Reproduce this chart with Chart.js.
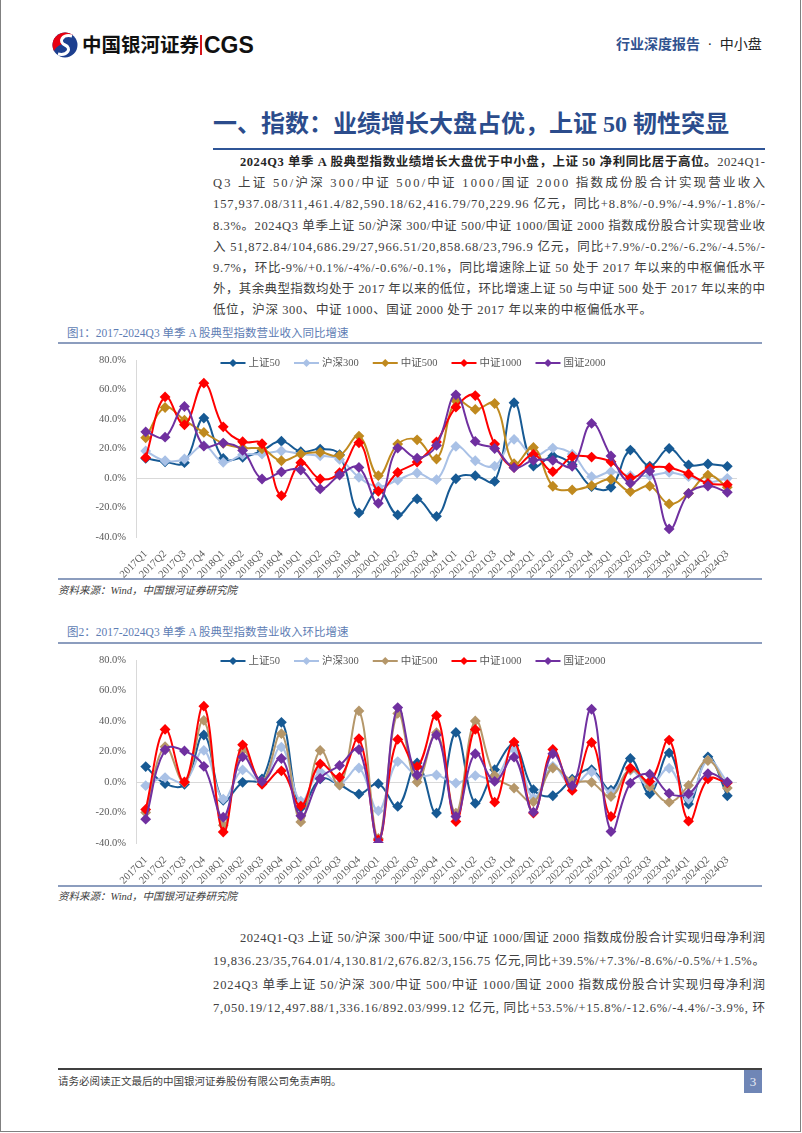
<!DOCTYPE html>
<html>
<head>
<meta charset="utf-8">
<script src="https://cdn.jsdelivr.net/npm/chart.js@4.4.1/dist/chart.umd.min.js"></script>
<style>
  body { margin: 0; background: #fff; }
  #page { position: relative; width: 802px; height: 1133px; overflow: hidden; background: #fff;
          font-family: "Liberation Serif", "Noto Sans CJK SC", serif; color: #404040; }
  .abs { position: absolute; white-space: nowrap; }
  .frame { position: absolute; left: 0; top: -2px; width: 799px; height: 1132px; border: 1px solid #808080; }
  .txt { position: absolute; left: 213px; width: 552px; height: 22px; line-height: 22px; font-size: 12.5px;
         white-space: nowrap; color: #404040; }
  .rule { position: absolute; left: 58px; width: 704px; height: 2px; background: #8C9DBE; }
  .cap { position: absolute; left: 67px; font-size: 11.5px; color: #5E7DB4; line-height: 16px; white-space: nowrap; }
  .src { position: absolute; left: 58px; font-size: 10.5px; font-style: italic; color: #404040; line-height: 14px; white-space: nowrap; }
  canvas { position: absolute; }
</style>
</head>
<body>
<div id="page">
  <div class="frame"></div>

  <!-- header -->
  <svg class="abs" style="left:51px;top:31px" width="28" height="28" viewBox="0 0 28 28">
    <circle cx="14" cy="14" r="12.5" fill="#1D3F8F"/>
    <path d="M14 1.5 A12.5 12.5 0 0 0 3 20 C 6 14, 12 12, 14 14 C 8 10, 12 3, 22 4 A12.5 12.5 0 0 0 14 1.5 Z" fill="#E60012"/>
    <path d="M21 5 C 11 3, 7 11, 14 14 C 21 17, 17 25, 7 23" stroke="#fff" stroke-width="3" fill="none"/>
  </svg>
  <div class="abs" style="left:82px;top:31px;font:bold 19.5px 'Noto Sans CJK SC',sans-serif;color:#111;line-height:26px">中国银河证券</div>
  <div class="abs" style="left:200px;top:35px;width:2px;height:20px;background:#D7141A"></div>
  <div class="abs" style="left:204px;top:31px;font:bold 23px 'Liberation Sans',Arial,sans-serif;color:#111;line-height:28px">CGS</div>
  <div class="abs" style="left:616px;top:36px;font-size:14px;line-height:18px;color:#222">
    <span style="color:#31528F;font-weight:bold">行业深度报告</span> <span style="margin:0 4px">·</span> 中小盘</div>

  <!-- title -->
  <div class="abs" style="left:213px;top:109px;font-size:24px;font-weight:bold;color:#2B4C8C;line-height:30px">一、指数：业绩增长大盘占优，上证 50 韧性突显</div>
  <div class="abs" style="left:213px;top:148px;width:552px;height:2px;background:#2F5597"></div>

  <!-- paragraph 1 -->
  <div class="txt just" data-indent="27" style="top:151px"><b style="color:#262626">2024Q3 单季 A 股典型指数业绩增长大盘优于中小盘，上证 50 净利同比居于高位。</b>2024Q1-</div>
  <div class="txt just" style="top:172px">Q3 上证 50/沪深 300/中证 500/中证 1000/国证 2000 指数成份股合计实现营业收入</div>
  <div class="txt just" style="top:193px">157,937.08/311,461.4/82,590.18/62,416.79/70,229.96 亿元，同比+8.8%/-0.9%/-4.9%/-1.8%/-</div>
  <div class="txt just" style="top:215px">8.3%。2024Q3 单季上证 50/沪深 300/中证 500/中证 1000/国证 2000 指数成份股合计实现营业收</div>
  <div class="txt just" style="top:236px">入 51,872.84/104,686.29/27,966.51/20,858.68/23,796.9 亿元，同比+7.9%/-0.2%/-6.2%/-4.5%/-</div>
  <div class="txt just" style="top:257px">9.7%，环比-9%/+0.1%/-4%/-0.6%/-0.1%，同比增速除上证 50 处于 2017 年以来的中枢偏低水平</div>
  <div class="txt just" style="top:278px">外，其余典型指数均处于 2017 年以来的低位，环比增速上证 50 与中证 500 处于 2017 年以来的中</div>
  <div class="txt" style="top:299px;letter-spacing:0.6px">低位，沪深 300、中证 1000、国证 2000 处于 2017 年以来的中枢偏低水平。</div>

  <!-- figure 1 -->
  <div class="cap" style="top:325px">图1：2017-2024Q3 单季 A 股典型指数营业收入同比增速</div>
  <div class="rule" style="top:342px"></div>
  <canvas id="chart1" width="704" height="228" style="left:58px;top:352px"></canvas>
  <div class="rule" style="top:578px"></div>
  <div class="src" style="top:584px">资料来源：Wind，中国银河证券研究院</div>

  <!-- figure 2 -->
  <div class="cap" style="top:624px">图2：2017-2024Q3 单季 A 股典型指数营业收入环比增速</div>
  <div class="rule" style="top:642px"></div>
  <canvas id="chart2" width="704" height="233" style="left:58px;top:652px"></canvas>
  <div class="rule" style="top:885px"></div>
  <div class="src" style="top:890px">资料来源：Wind，中国银河证券研究院</div>

  <!-- paragraph 2 -->
  <div class="txt just" data-indent="27" style="top:927px">2024Q1-Q3 上证 50/沪深 300/中证 500/中证 1000/国证 2000 指数成份股合计实现归母净利润</div>
  <div class="txt just" style="top:950px">19,836.23/35,764.01/4,130.81/2,676.82/3,156.75 亿元,同比+39.5%/+7.3%/-8.6%/-0.5%/+1.5%。</div>
  <div class="txt just" style="top:974px">2024Q3 单季上证 50/沪深 300/中证 500/中证 1000/国证 2000 指数成份股合计实现归母净利润</div>
  <div class="txt just" style="top:997px">7,050.19/12,497.88/1,336.16/892.03/999.12 亿元, 同比+53.5%/+15.8%/-12.6%/-4.4%/-3.9%, 环</div>

  <!-- footer -->
  <div class="abs" style="left:58px;top:1068px;width:704px;height:2px;background:#404040"></div>
  <div class="abs" style="left:58px;top:1075px;font-size:10.5px;line-height:14px;color:#404040">请务必阅读正文最后的中国银河证券股份有限公司免责声明。</div>
  <div class="abs" style="left:744px;top:1070px;width:18px;height:23px;background:#6F86B6;color:#E8ECF4;font-size:13px;line-height:23px;text-align:center">3</div>
</div>

<script>
// categories
const quarters = ['2017Q1','2017Q2','2017Q3','2017Q4','2018Q1','2018Q2','2018Q3','2018Q4',
  '2019Q1','2019Q2','2019Q3','2019Q4','2020Q1','2020Q2','2020Q3','2020Q4',
  '2021Q1','2021Q2','2021Q3','2021Q4','2022Q1','2022Q2','2022Q3','2022Q4',
  '2023Q1','2023Q2','2023Q3','2023Q4','2024Q1','2024Q2','2024Q3'];
const seriesNames = ['上证50', '沪深300', '中证500', '中证1000', '国证2000'];

// fig 1: yoy growth (%)
const yoySZ50   = [13.3, 11.0, 10.4, 40.6, 13.3, 14.0, 18.5, 25.0, 17.8, 19.6, 15.8, -23.7, -8.0, -25.0, -14.2, -26.0, -0.5, 1.6, -2.3, 51.0, 8.1, 14.9, 9.0, -5.9, -6.3, 18.9, 8.1, 20.0, 8.8, 9.5, 7.9];
const yoyHS300  = [18.3, 11.7, 12.9, 22.0, 10.6, 15.8, 16.2, 18.3, 16.2, 15.1, 12.6, 0.5, -5.9, -1.4, 3.4, -1.1, 21.4, 11.7, 8.1, 26.2, 15.0, 20.3, 16.2, 0.9, 4.3, 1.6, 1.6, 3.8, 0.9, -2.9, -0.2];
const yoyZZ500  = [27.3, 47.8, 39.2, 30.9, 23.5, 20.3, 19.8, 11.7, 16.2, 17.4, 15.3, 28.4, 1.6, 23.0, 25.9, 12.9, 52.3, 46.5, 50.5, 9.7, 20.7, -5.6, -8.1, -5.2, -0.9, -9.2, -5.4, -17.6, -10.4, 2.0, -6.2];
const yoyZZ1000 = [13.8, 55.0, 36.1, 64.3, 34.7, 24.6, 23.2, -12.0, 10.4, -0.7, 3.6, 23.9, -9.0, 3.8, 10.8, 24.4, 48.0, 55.9, 23.0, 7.2, 16.0, 4.3, 14.4, 14.2, 11.0, 0.0, 6.8, 7.0, 2.7, -3.6, -4.5];
const yoyGZ2000 = [31.3, 27.7, 48.5, 21.6, 23.7, 18.7, -0.7, 4.1, 5.4, -7.4, 2.0, 7.2, -17.1, 20.3, 13.5, 22.1, 56.4, 24.8, 20.0, 7.0, 12.0, 12.0, 7.9, 37.0, 14.9, -3.6, 4.7, -34.5, -10.4, -5.4, -9.7];

// fig 2: qoq growth (%)
const qoqSZ50   = [10.1, -1.1, -1.5, 30.8, -12.0, -0.2, 2.0, 39.1, -17.0, 2.0, -1.8, -7.9, -1.1, -16.0, 12.5, -20.4, 32.5, -14.0, 8.1, 24.0, -5.0, -9.0, 1.8, 8.1, -5.3, 15.4, -7.7, 19.1, -14.5, 16.5, -9.0];
const qoqHS300  = [-2.4, 2.9, -0.2, 20.7, -11.2, 7.9, 0.2, 22.9, -12.5, 6.8, -1.1, 9.2, -18.9, 13.4, 4.0, 4.6, -0.7, 4.2, 2.0, 21.3, -10.5, 10.3, -2.9, 6.6, -6.8, 7.7, -2.9, 9.0, -11.2, 14.3, 0.1];
const qoqZZ500  = [-20.0, 23.1, -0.2, 40.4, -28.4, 20.7, -0.2, 31.7, -26.2, 20.7, -2.0, 46.6, -37.0, 45.0, 0.0, 32.3, -20.4, 40.0, 4.2, -4.0, -13.0, 9.2, 0.7, -0.2, -9.5, 8.1, -3.0, -13.2, -2.2, 14.1, -4.0];
const qoqZZ1000 = [-18.0, 34.5, 0.0, 49.7, -32.8, 24.4, -1.5, 7.3, -15.8, 11.9, 3.1, 28.4, -38.0, 27.9, 10.1, 43.5, -25.9, 34.5, -13.2, 26.2, -20.4, 21.3, -5.5, 25.9, -22.6, 9.2, 0.4, 27.5, -25.7, 2.0, -0.6];
const qoqGZ2000 = [-24.4, 21.1, 20.4, 10.3, -23.1, 16.5, 0.4, 15.4, -22.2, 2.4, 10.8, 21.3, -39.8, 48.8, 4.6, 30.8, -22.6, 18.5, 0.4, 16.3, -19.8, 18.5, -2.4, 47.7, -32.5, -0.7, 5.1, -7.5, -7.7, 5.5, -0.1];

// y axis ticks
const yMin = -40, yMax = 80, yStep = 20;

// spread each full text line to the column width, word-processor style
document.querySelectorAll('.txt.just').forEach(el => {
  const indent = +(el.dataset.indent || 0);
  const span = document.createElement('span');
  while (el.firstChild) span.appendChild(el.firstChild);
  el.appendChild(span);
  span.style.marginLeft = indent + 'px';
  const natural = span.getBoundingClientRect().width;
  const n = span.textContent.length;
  const ls = (552 - indent - natural) / (n - 1);
  span.style.letterSpacing = ls.toFixed(3) + 'px';
});

const axisFont = { family: '"Liberation Serif", "Noto Sans CJK SC", serif', size: 10.5 };

// legend drawn as line + diamond, like the excel one
const lineLegend = {
  id: 'lineLegend',
  afterDraw(chart, args, opts) {
    const ctx = chart.ctx;
    ctx.save();
    ctx.font = '10.5px "Liberation Serif", "Noto Sans CJK SC", serif';
    const items = chart.data.datasets.map(ds => ({
      label: ds.label, color: ds.borderColor,
      w: 28 + ctx.measureText(ds.label).width
    }));
    const gap = 14;
    const total = items.reduce((s, it) => s + it.w, 0) + gap * (items.length - 1);
    let x = chart.width / 2 + 3 - total / 2;
    const y = opts.y;
    items.forEach(it => {
      ctx.strokeStyle = it.color;
      ctx.lineWidth = 2;
      ctx.beginPath(); ctx.moveTo(x, y); ctx.lineTo(x + 25, y); ctx.stroke();
      ctx.fillStyle = it.color;
      ctx.beginPath();
      ctx.moveTo(x + 12.5, y - 4); ctx.lineTo(x + 16.5, y);
      ctx.lineTo(x + 12.5, y + 4); ctx.lineTo(x + 8.5, y);
      ctx.closePath(); ctx.fill();
      ctx.fillStyle = '#595959';
      ctx.textAlign = 'left';
      ctx.textBaseline = 'middle';
      ctx.fillText(it.label, x + 28, y + 0.5);
      x += it.w + gap;
    });
    ctx.restore();
  }
};

function makeChart(id, values, colors, legendY, xHeight) {
  const datasets = values.map((arr, i) => ({
    label: seriesNames[i],
    data: arr,
    borderColor: colors[i],
    backgroundColor: colors[i],
    pointBackgroundColor: colors[i],
    pointBorderColor: colors[i],
    pointStyle: 'rectRot',
    pointRadius: 4,
    borderWidth: 2,
    tension: 0.4,
    order: values.length - 1 - i
  }));
  return new Chart(document.getElementById(id), {
    type: 'line',
    data: { labels: quarters, datasets: datasets },
    options: {
      responsive: false,
      animation: false,
      layout: { autoPadding: false, padding: { top: 8, right: 25, left: 0, bottom: 0 } },
      plugins: {
        legend: { display: false },
        tooltip: { enabled: false },
        lineLegend: { y: legendY }
      },
      scales: {
        x: {
          offset: true,
          grid: { display: false },
          border: { display: false },
          ticks: { minRotation: 45, maxRotation: 45, autoSkip: false, color: '#595959', font: axisFont, padding: 3 },
          afterFit(scale) { scale.height = xHeight; }
        },
        y: {
          min: yMin,
          max: yMax,
          ticks: { stepSize: yStep, color: '#595959', font: axisFont, padding: 10,
                   callback: v => v.toFixed(1) + '%' },
          grid: { drawTicks: false, lineWidth: 1,
                  color: c => (c.tick && c.tick.value === 0) ? '#D9D9D9' : 'rgba(0,0,0,0)' },
          border: { display: true, color: '#D9D9D9' },
          afterFit(scale) {
            scale.width = 78;
            // tick padding would otherwise push the plot top down
            scale.paddingTop = 0;
            scale.paddingBottom = 0;
          }
        }
      }
    },
    plugins: [lineLegend]
  });
}

makeChart('chart1', [yoySZ50, yoyHS300, yoyZZ500, yoyZZ1000, yoyGZ2000],
  ['#175A94', '#A9C1E6', '#C08A1F', '#FF0000', '#7030A0'], 11, 43);
makeChart('chart2', [qoqSZ50, qoqHS300, qoqZZ500, qoqZZ1000, qoqGZ2000],
  ['#175A94', '#A9C1E6', '#B5976A', '#FF0000', '#7030A0'], 9, 42);
</script>
</body>
</html>
